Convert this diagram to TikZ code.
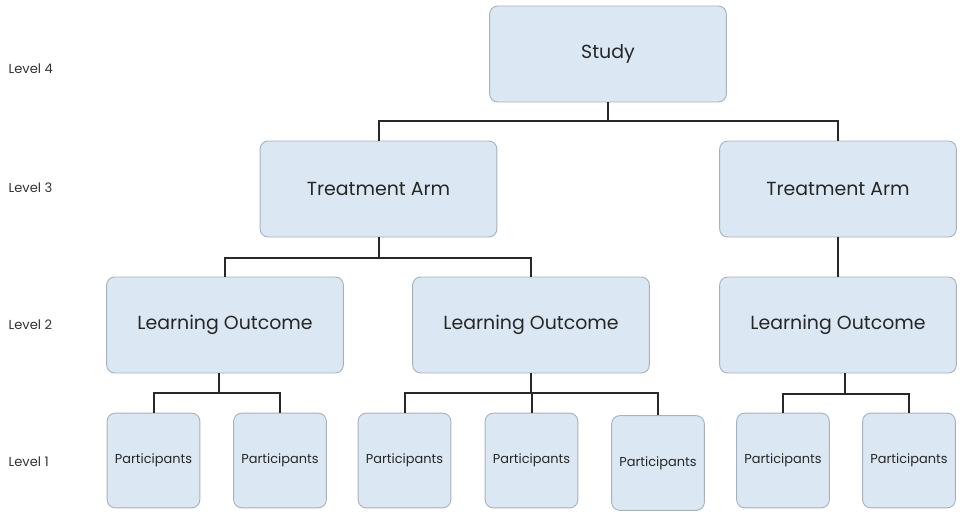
\documentclass[tikz,border=0pt]{standalone}
\usepackage{fontspec}
\setmainfont{Poppins}
\usetikzlibrary{positioning, calc}

\definecolor{boxfill}{RGB}{219,232,244}
\definecolor{boxline}{RGB}{168,178,188}
\definecolor{linkcol}{RGB}{40,40,40}

\begin{document}
\begin{tikzpicture}[x=0.75pt, y=-0.75pt,
    box/.style={draw=boxline, fill=boxfill, rounded corners=6pt, line width=0.7pt,
        text=black!85, font=\fontsize{14.2}{16}\selectfont},
    bigbox/.style={box, minimum width=177.5pt, minimum height=72pt},
    smallbox/.style={box, minimum width=69.5pt, minimum height=71pt,
        font=\fontsize{9.7}{11}\selectfont},
    level/.style={anchor=west, text=black!80, font=\fontsize{9.8}{11}\selectfont},
    link/.style={draw=linkcol, line width=1.5pt}]
        \useasboundingbox (0,0) rectangle (967,517);

        % Level labels on the left
        \node[level] (lev4) at (4, 69) {Level 4};
        \node[level] (lev3) at (4, 188) {Level 3};
        \node[level] (lev2) at (4, 325) {Level 2};
        \node[level] (lev1) at (4, 462) {Level 1};

        % Level 4 and 3
        \node[bigbox] (study) at (608, 54) {Study};
        \node[bigbox] (arm1) at (378.5, 189) {Treatment Arm};
        \node[bigbox] (arm2) at (838, 189) {Treatment Arm};

        % Level 2
        \node[bigbox] (out1) at (225, 325) {Learning Outcome};
        \node[bigbox] (out2) at (531, 325) {Learning Outcome};
        \node[bigbox] (out3) at (838, 325) {Learning Outcome};

        % Level 1
        \node[smallbox] (p1) at (153.5, 460.5) {Participants};
        \node[smallbox] (p2) at (280, 460.5) {Participants};
        \node[smallbox] (p3) at (404.5, 460.5) {Participants};
        \node[smallbox] (p4) at (531.5, 460.5) {Participants};
        \node[smallbox] (p5) at (658, 463) {Participants};
        \node[smallbox] (p6) at (783, 460.5) {Participants};
        \node[smallbox] (p7) at (909, 460.5) {Participants};

        % Connectors
        \draw[link] (study.south) -- ++(0, 19) -| (arm1.north);
        \draw[link] (study.south) -- ++(0, 19) -| (arm2.north);
        \draw[link] (arm1.south) -- ++(0, 21) -| (out1.north);
        \draw[link] (arm1.south) -- ++(0, 21) -| (out2.north);
        \draw[link] (arm2.south) -- (out3.north);

        \draw[link] ([xshift=-4.5pt]out1.south) -- ++(0, 20) -| (p1.north);
        \draw[link] ([xshift=-4.5pt]out1.south) -- ++(0, 20) -| (p2.north);
        \draw[link] (out2.south) -- ++(0, 20) -| (p3.north);
        \draw[link] (out2.south) -- ++(0, 20) -| (p4.north);
        \draw[link] (out2.south) -- ++(0, 20) -| (p5.north);
        \draw[link] ([xshift=5pt]out3.south) -- ++(0, 21) -| (p6.north);
        \draw[link] ([xshift=5pt]out3.south) -- ++(0, 21) -| (p7.north);
    \end{tikzpicture}
\end{document}
